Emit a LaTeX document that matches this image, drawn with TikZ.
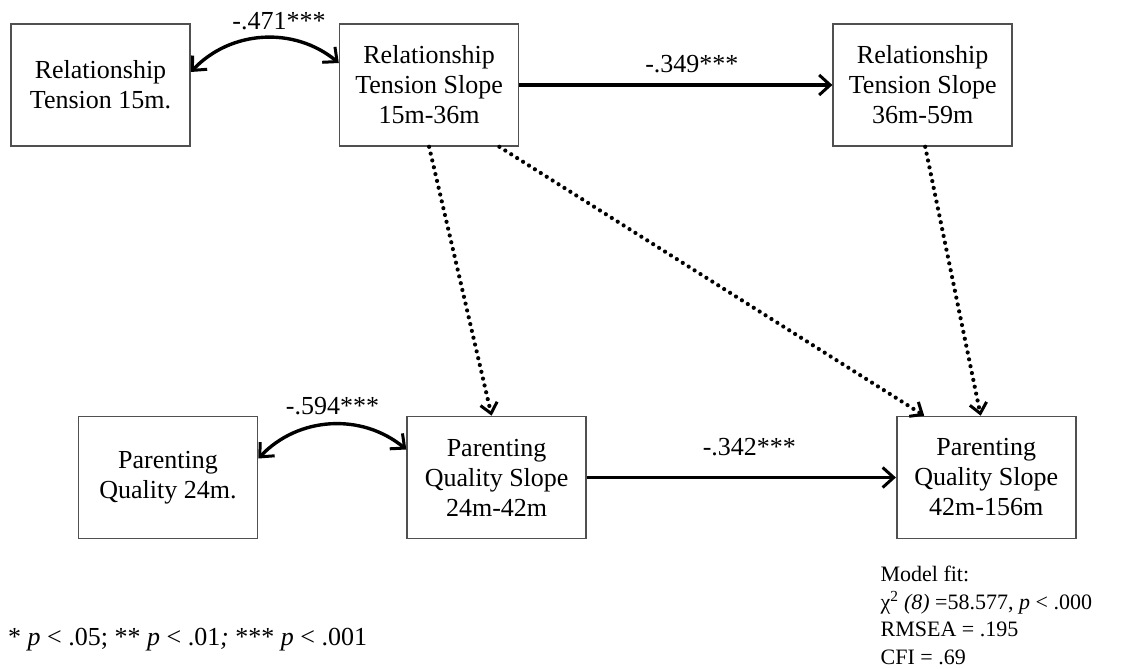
\documentclass[tikz,border=0pt]{standalone}
\usepackage{fontspec}
\setmainfont{Liberation Serif}
\usepackage{tikz}
\usetikzlibrary{positioning,arrows.meta}
\definecolor{boxgray}{HTML}{505050}

\begin{document}
\begin{tikzpicture}[x=1pt, y=-1pt, node distance=148pt,
    every node/.style={font=\fontsize{26}{30}\selectfont},
    var/.style={draw=boxgray, line width=1.6pt, minimum width=179pt, minimum height=122pt,
                align=center, inner sep=0pt},
    coef/.style={inner sep=0pt},
    note/.style={inner sep=0pt, align=left, font=\fontsize{22}{27.5}\selectfont},
    effect/.style={-{Straight Barb[length=11pt, width=20pt, line width=3pt]}, line width=3.4pt},
    cov/.style={{Straight Barb[length=11pt, width=20pt, line width=3pt]}-{Straight Barb[length=11pt, width=20pt, line width=3pt]},
                line width=3.4pt},
    nseffect/.style={-{Straight Barb[length=10pt, width=17pt, line width=3pt]}, line width=4.2pt,
                     line cap=round, dash pattern=on 0pt off 7pt}]
    \useasboundingbox (0,0) rectangle (1124,669);
    \node[var] (rt15) at (100.5,85) {Relationship\\ Tension 15m.};
    \node[var, right=of rt15] (rts1) {Relationship\\ Tension Slope\\ 15m-36m};
    \node[var, right=313pt of rts1] (rts2) {Relationship\\ Tension Slope\\ 36m-59m};
    \node[var] (pq24) at (168,477.5) {Parenting\\ Quality 24m.};
    \node[var, right=of pq24] (pqs1) {Parenting\\ Quality Slope\\ 24m-42m};
    \node[var, right=309pt of pqs1] (pqs2) {Parenting\\ Quality Slope\\ 42m-156m};
    \draw[cov] ([yshift=13pt]rt15.east) to[bend left=43]
      node[coef, above=6pt, xshift=16pt] (c1) {-.471***} ([yshift=22pt]rts1.west);
    \draw[effect] (rts1) -- node[coef, above=10pt, xshift=16pt] (c2) {-.349***} (rts2);
    \draw[cov] ([yshift=19pt]pq24.east) to[bend left=43]
      node[coef, above=8pt, xshift=2pt] (c3) {-.594***} ([yshift=28pt]pqs1.west);
    \draw[effect] (pqs1) -- node[coef, above=20pt, xshift=8pt] (c4) {-.342***} (pqs2);
    \draw[nseffect] (rts1.south) -- ([xshift=-5pt]pqs1.north);
    \draw[nseffect] ([xshift=-20pt]rts1.south east) -- ([xshift=-62pt]pqs2.north);
    \draw[nseffect] ([xshift=2.5pt]rts2.south) -- ([xshift=-5.5pt]pqs2.north);
    \node[note, anchor=north west] (fit) at ([xshift=-15.5pt, yshift=-27pt]pqs2.south west)
      {Model fit:\\ χ\textsuperscript{2} \textit{(8)} =58.577, \textit{p} < .000\\ RMSEA = .195\\ CFI = .69};
    \node[coef, anchor=base west] (sig) at (8,645)
      {* \textit{p} < .05; ** \textit{p} < .01\textit{;} *** \textit{p} < .001};
\end{tikzpicture}
\end{document}
